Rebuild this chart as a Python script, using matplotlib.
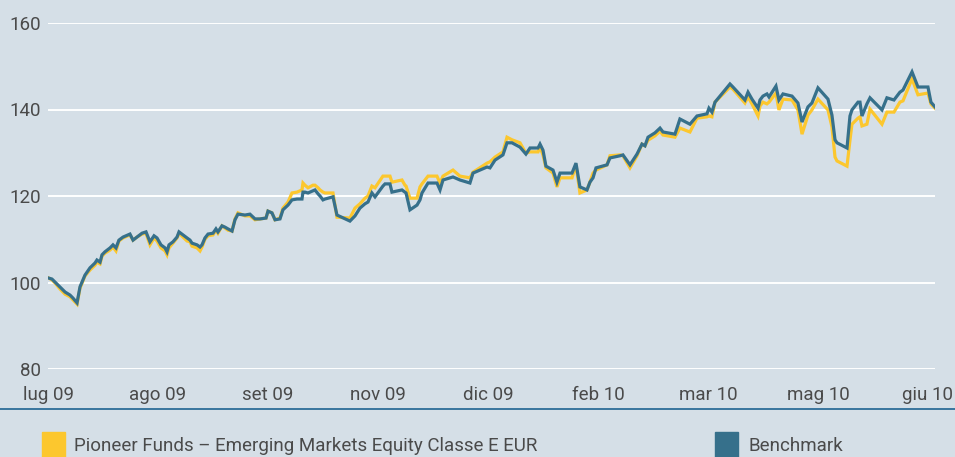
import matplotlib
matplotlib.use('Agg')
from matplotlib import pyplot as plt
from matplotlib.patches import Rectangle
from matplotlib.lines import Line2D

# x position in "tick units": 0 = lug 09, 8 = giu 10
pos = [0.009, 0.036, 0.064, 0.109, 0.155, 0.2, 0.227, 0.264, 0.291, 0.336,
       0.382, 0.427, 0.445, 0.473, 0.491, 0.518, 0.564, 0.591, 0.618, 0.645,
       0.682, 0.727, 0.745, 0.773, 0.809, 0.855, 0.891, 0.927, 0.964, 0.991,
       1.027, 1.064, 1.082, 1.1, 1.136, 1.173, 1.191, 1.227, 1.264, 1.291,
       1.309, 1.355, 1.382, 1.4, 1.427, 1.455, 1.5, 1.527, 1.545, 1.582,
       1.609, 1.636, 1.673, 1.7, 1.727, 1.791, 1.836, 1.882, 1.927, 1.982,
       2.0, 2.036, 2.064, 2.109, 2.136, 2.182, 2.218, 2.264, 2.309, 2.318,
       2.336, 2.364, 2.409, 2.427, 2.455, 2.473, 2.5, 2.518, 2.591, 2.627,
       2.745, 2.791, 2.836, 2.882, 2.909, 2.945, 2.973, 3.045, 3.064, 3.109,
       3.127, 3.218, 3.245, 3.255, 3.291, 3.355, 3.382, 3.4, 3.455, 3.536,
       3.564, 3.591, 3.682, 3.745, 3.836, 3.864, 3.991, 4.018, 4.064, 4.136,
       4.173, 4.218, 4.291, 4.345, 4.382, 4.455, 4.473, 4.5, 4.527, 4.591,
       4.627, 4.655, 4.764, 4.8, 4.836, 4.9, 4.927, 4.955, 4.982, 5.082,
       5.109, 5.2, 5.227, 5.291, 5.355, 5.4, 5.427, 5.455, 5.518, 5.564,
       5.591, 5.7, 5.745, 5.836, 5.9, 5.991, 6.009, 6.036, 6.064, 6.2,
       6.227, 6.336, 6.364, 6.4, 6.455, 6.473, 6.5, 6.536, 6.555, 6.618,
       6.645, 6.682, 6.764, 6.818, 6.855, 6.909, 6.945, 7.0, 7.091, 7.127,
       7.155, 7.173, 7.264, 7.291, 7.309, 7.364, 7.382, 7.4, 7.445, 7.473,
       7.582, 7.627, 7.691, 7.745, 7.773, 7.855, 7.909, 8.0, 8.027, 8.064]

benchmark = [101.0, 100.8, 100.1, 99.0, 97.8, 97.1, 96.4, 95.3, 99.0, 101.7,
             103.4, 104.5, 105.2, 104.7, 106.4, 107.1, 108.0, 108.7, 108.0, 109.8,
             110.5, 111.0, 111.2, 109.8, 110.5, 111.4, 111.7, 109.4, 110.8, 110.3,
             108.7, 108.0, 107.1, 108.7, 109.4, 110.5, 111.7, 111.0, 110.3, 109.8,
             109.1, 108.7, 108.2, 108.7, 110.3, 111.2, 111.4, 112.4, 111.7, 113.1,
             112.8, 112.4, 111.9, 114.5, 115.8, 115.6, 115.8, 114.7, 114.7, 114.9,
             116.5, 116.1, 114.5, 114.7, 116.8, 117.9, 119.1, 119.3, 119.3, 120.9,
             120.9, 120.7, 121.2, 121.4, 120.5, 120.0, 119.1, 119.3, 119.8, 115.6,
             114.2, 115.4, 117.2, 118.2, 118.6, 120.7, 119.8, 122.3, 122.8, 122.8,
             120.9, 121.4, 120.9, 120.7, 116.8, 117.9, 119.1, 120.7, 123.0, 123.0,
             121.4, 123.7, 124.4, 123.7, 123.0, 125.3, 126.7, 126.5, 128.3, 129.5,
             132.3, 132.3, 131.3, 129.7, 131.1, 131.1, 132.0, 130.6, 126.9, 126.0,
             123.2, 125.3, 125.3, 127.6, 122.1, 121.4, 123.2, 124.2, 126.5, 127.2,
             128.8, 129.3, 129.5, 127.2, 129.7, 132.0, 131.6, 133.6, 134.6, 135.7,
             134.8, 134.3, 137.8, 136.6, 138.5, 139.0, 140.3, 139.4, 141.7, 145.9,
             145.2, 142.2, 144.0, 142.4, 140.3, 142.2, 143.1, 143.6, 142.9, 145.4,
             142.2, 143.6, 143.1, 141.5, 137.1, 140.6, 141.5, 145.0, 142.4, 138.7,
             133.0, 132.3, 131.1, 138.5, 139.9, 141.7, 141.7, 138.5, 141.3, 142.7,
             139.9, 142.7, 142.2, 144.0, 144.5, 148.7, 145.2, 145.2, 141.7, 140.6]

fund = [101.0, 100.6, 99.9, 98.5, 97.3, 96.7, 96.0, 95.0, 98.7, 101.5,
        102.9, 104.0, 104.7, 104.3, 106.1, 106.8, 107.5, 108.2, 107.3, 109.6,
        110.3, 110.8, 111.0, 109.8, 110.5, 111.2, 111.4, 108.7, 110.3, 109.6,
        108.0, 107.3, 106.4, 108.0, 109.1, 110.3, 111.4, 110.5, 109.6, 109.4,
        108.4, 108.0, 107.3, 108.2, 110.0, 110.8, 111.0, 112.1, 111.4, 113.1,
        112.6, 112.1, 111.9, 114.7, 116.1, 115.4, 115.4, 114.5, 114.7, 114.9,
        116.5, 116.1, 114.5, 114.9, 117.2, 118.6, 120.7, 120.9, 121.4, 123.0,
        122.5, 121.9, 122.5, 122.5, 121.9, 121.4, 120.9, 120.7, 120.7, 115.1,
        114.9, 117.2, 118.2, 119.5, 120.0, 122.3, 121.9, 124.6, 124.6, 124.6,
        123.2, 123.7, 122.5, 122.3, 119.5, 119.5, 122.1, 122.8, 124.6, 124.6,
        123.0, 124.6, 126.0, 124.6, 124.2, 125.5, 127.6, 127.9, 129.0, 130.2,
        133.6, 133.0, 132.3, 129.9, 130.2, 130.2, 131.3, 129.5, 126.5, 125.3,
        122.1, 124.2, 124.2, 127.2, 120.7, 121.4, 123.2, 125.3, 126.0, 127.2,
        129.3, 129.5, 129.3, 126.5, 129.3, 132.0, 131.6, 132.9, 133.9, 135.0,
        134.1, 133.6, 135.7, 134.8, 138.0, 138.3, 138.5, 138.3, 141.7, 145.2,
        144.7, 141.5, 142.9, 141.3, 138.5, 140.8, 141.7, 141.3, 141.7, 143.8,
        139.9, 142.4, 142.2, 139.9, 134.3, 138.7, 139.9, 142.4, 139.9, 136.0,
        129.0, 128.1, 126.9, 132.9, 136.6, 138.0, 138.3, 136.2, 136.6, 140.1,
        136.6, 139.4, 139.4, 141.7, 142.0, 147.1, 143.4, 143.8, 141.3, 140.3]

month_labels = ['lug 09', 'ago 09', 'set 09', 'nov 09', 'dic 09',
                'feb 10', 'mar 10', 'mag 10', 'giu 10']
y_ticks = [80, 100, 120, 140, 160]

fund_name = 'Pioneer Funds \u2013 Emerging Markets Equity Classe E EUR'
bench_name = 'Benchmark'

BG = '#d5dfe7'
YELLOW = '#fcc72e'
BLUE = '#36708b'
TEXT = '#4a4a4a'

plt.rcParams['font.family'] = ['Roboto', 'DejaVu Sans']

W, H = 955, 457
fig = plt.figure(figsize=(W / 100, H / 100), dpi=100, facecolor=BG)
ax = fig.add_axes([48 / W, 1 - 369 / H, (935 - 48) / W, (369 - 23) / H])
ax.set_facecolor(BG)

ax.plot(pos, fund, color=YELLOW, lw=2.3, solid_joinstyle='miter', zorder=3)
ax.plot(pos, benchmark, color=BLUE, lw=2.3, solid_joinstyle='miter', zorder=4)

ax.set_xlim(0, 8.064)
ax.set_ylim(80, 160)
ax.set_yticks(y_ticks)
ax.set_xticks(range(len(month_labels)))
ax.set_xticklabels(month_labels)
ax.grid(axis='y', color='white', lw=1.4, zorder=1)
ax.grid(axis='x', visible=False)
for s in ax.spines.values():
    s.set_visible(False)
ax.tick_params(axis='both', length=0, labelsize=13.5, colors=TEXT)
ax.tick_params(axis='y', pad=5)
ax.tick_params(axis='x', pad=12)

# separator line above the legend
fig.add_artist(Line2D([0, 1], [1 - 409 / H, 1 - 409 / H], color='#2c6c98', lw=1.3,
                      transform=fig.transFigure))

# legend
fig.add_artist(Rectangle((42 / W, 0), 23 / W, 25 / H, color=YELLOW,
                         transform=fig.transFigure))
fig.text(74 / W, 1 - 446 / H, fund_name, fontsize=13.5, color=TEXT, va='center')
fig.add_artist(Rectangle((715 / W, 0), 23 / W, 25 / H, color=BLUE,
                         transform=fig.transFigure))
fig.text(748 / W, 1 - 446 / H, bench_name, fontsize=13.5, color=TEXT, va='center')

fig.savefig('out.png', dpi=100, facecolor=BG)
